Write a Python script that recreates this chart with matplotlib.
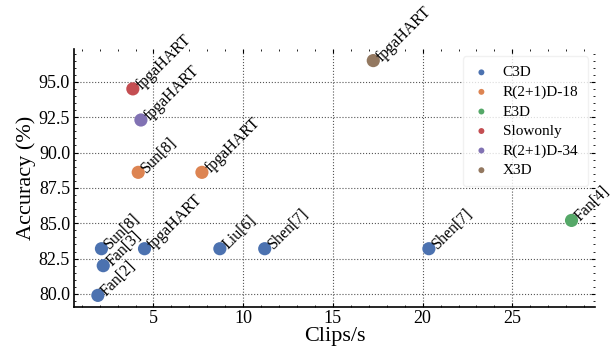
import matplotlib
matplotlib.use('Agg')
import matplotlib.pyplot as plt
from matplotlib.ticker import AutoMinorLocator

plt.rcParams['font.family'] = ['Liberation Serif', 'DejaVu Serif']
plt.rcParams['mathtext.fontset'] = 'stix'

# data
models = ['C3D', 'R(2+1)D-18', 'E3D', 'Slowonly', 'R(2+1)D-34', 'X3D']
colors = ['#4C72B0', '#DD8452', '#55A868', '#C44E52', '#8172B3', '#937860']

c3d_x = [1.9, 2.2, 2.1, 4.5, 8.7, 11.2, 20.35]
c3d_y = [79.9, 82.0, 83.2, 83.2, 83.2, 83.2, 83.2]
c3d_names = ['Fan[2]', 'Fan[3]', 'Sun[8]', 'fpgaHART', 'Liu[6]', 'Shen[7]', 'Shen[7]']

r18_x = [4.15, 7.7]
r18_y = [88.6, 88.6]
r18_names = ['Sun[8]', 'fpgaHART']

e3d_x = [28.3]
e3d_y = [85.2]
e3d_names = ['Fan[4]']

slow_x = [3.85]
slow_y = [94.5]
slow_names = ['fpgaHART']

r34_x = [4.3]
r34_y = [92.3]
r34_names = ['fpgaHART']

x3d_x = [17.25]
x3d_y = [96.5]
x3d_names = ['fpgaHART']

groups = [(c3d_x, c3d_y, c3d_names), (r18_x, r18_y, r18_names),
          (e3d_x, e3d_y, e3d_names), (slow_x, slow_y, slow_names),
          (r34_x, r34_y, r34_names), (x3d_x, x3d_y, x3d_names)]

fig, ax = plt.subplots(figsize=(6.13, 3.49), dpi=100)
fig.subplots_adjust(left=0.121, right=0.971, top=0.86, bottom=0.12)

for (xs, ys, names), m, c in zip(groups, models, colors):
    ax.scatter(xs, ys, s=90, color=c, label=m, zorder=3, edgecolors='none')
    for x, y, n in zip(xs, ys, names):
        ax.annotate(n, (x, y), xytext=(0, -3), textcoords='offset points',
                    rotation=45, fontsize=11.5, ha='left', va='bottom')

ax.set_xlabel('Clips/s', fontsize=16, labelpad=0)
ax.set_ylabel('Accuracy (%)', fontsize=16, labelpad=2)
ax.set_yticks([80.0, 82.5, 85.0, 87.5, 90.0, 92.5, 95.0])
ax.set_xticks([5, 10, 15, 20, 25])
ax.tick_params(axis='both', labelsize=13)
ax.xaxis.set_minor_locator(AutoMinorLocator(5))
ax.yaxis.set_minor_locator(AutoMinorLocator(5))
ax.tick_params(which='both', direction='in', top=True, right=True)
ax.tick_params(which='major', length=3, width=0.8, pad=3)
ax.tick_params(axis='x', which='major', pad=2)
ax.tick_params(which='minor', length=1.5, width=0.6)
ax.grid(True, linestyle=':', color='#555555', linewidth=0.8)
ax.spines['top'].set_visible(False)
ax.spines['right'].set_visible(False)
ax.spines['left'].set_linewidth(1.2)
ax.spines['bottom'].set_linewidth(1.2)

leg = ax.legend(loc='upper right', fontsize=11, markerscale=0.45,
                frameon=True, framealpha=0.8, borderpad=0.6,
                labelspacing=0.38, handlelength=1.2, handletextpad=0.8)
leg.get_frame().set_edgecolor('#eeeeee')

fig.savefig('out.png', dpi=100)
